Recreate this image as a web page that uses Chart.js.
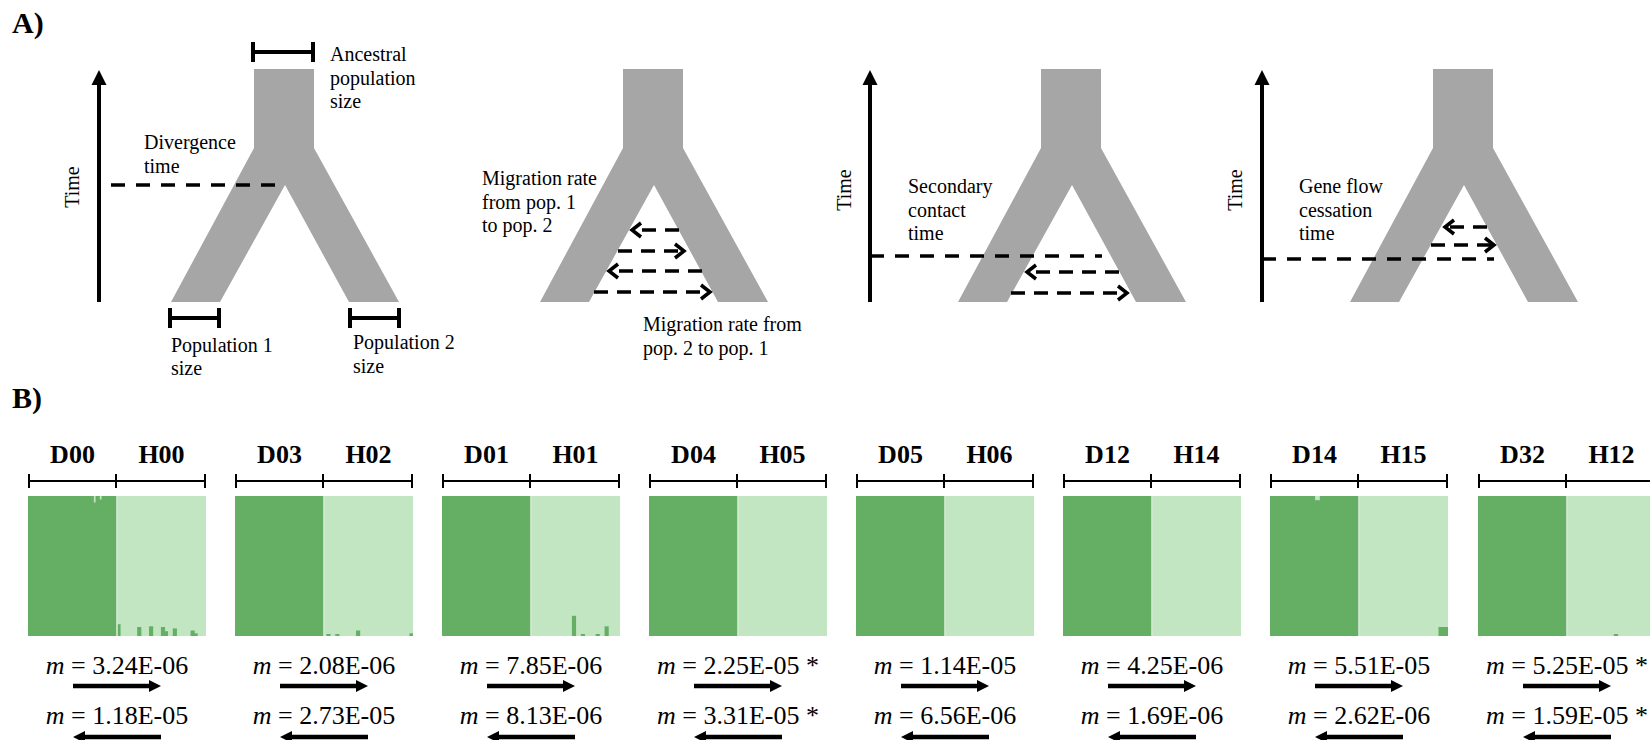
<!DOCTYPE html>
<html>
<head>
<meta charset="utf-8">
<script src="https://cdn.jsdelivr.net/npm/chart.js@4.4.1/dist/chart.umd.min.js"></script>
<style>
  body { margin: 0; background: #fff; }
  #fig { position: relative; width: 1650px; height: 740px; overflow: hidden;
         font-family: 'Liberation Serif', 'DejaVu Serif', 'Times New Roman', Times, serif; color: #000; }
  #fig canvas { position: absolute; }
  #fig div { font-family: 'Liberation Serif', 'DejaVu Serif', 'Times New Roman', Times, serif; }
  .t { position: absolute; font-size: 20px; line-height: 23.5px; white-space: nowrap; }
  .panel { position: absolute; font-weight: bold; font-size: 30px; line-height: 30px; transform: translateY(-50%); }
  .time { position: absolute; font-size: 20px; line-height: 20px; transform: translate(-50%, -50%) rotate(-90deg); }
  .pop { position: absolute; font-weight: bold; font-size: 26px; line-height: 26px; transform: translate(-50%, -50%); }
  .m { position: absolute; font-size: 26px; line-height: 26px; white-space: nowrap; transform: translate(-50%, -50%); }
</style>
</head>
<body>
<div id="fig">
  <canvas id="overlay" width="1650" height="740" style="left:0;top:0;z-index:2"></canvas>

  <div class="panel" style="left:12px;top:23px">A)</div>
  <div class="panel" style="left:12px;top:398px">B)</div>

  <div class="time" style="left:72px;top:187px">Time</div>
  <div class="t" style="left:330px;top:43px">Ancestral<br>population<br>size</div>
  <div class="t" style="left:144px;top:131px">Divergence<br>time</div>
  <div class="t" style="left:171px;top:334px;line-height:22.5px">Population 1<br>size</div>
  <div class="t" style="left:353px;top:331px">Population 2<br>size</div>

  <div class="t" style="left:482px;top:167px">Migration rate<br>from pop. 1<br>to pop. 2</div>
  <div class="t" style="left:643px;top:313px">Migration rate from<br>pop. 2 to pop. 1</div>

  <div class="time" style="left:844px;top:190px">Time</div>
  <div class="t" style="left:908px;top:175px">Secondary<br>contact<br>time</div>

  <div class="time" style="left:1235px;top:190px">Time</div>
  <div class="t" style="left:1299px;top:175px">Gene flow<br>cessation<br>time</div>
</div>

<script>
// ---------- Panel A : demographic models (diagram units = page pixels) ----------
const treeX = [254, 314, 314, 399, 349, 285, 220, 171, 254];
const treeY = [69, 69, 148, 302, 302, 185, 302, 302, 148];
const treeShift = [0, 369, 787, 1179];

const timeAxisX = [99, 870, 1262];
const timeAxisBottom = 302;
const timeAxisTip = 70;

// divergence time, secondary contact time, gene flow cessation time
const eventX0 = [111, 870, 1262];
const eventX1 = [285, 1102, 1494];
const eventY = [185, 256, 259];

// migration arrows (tail -> tip)
const migTail = [679, 618, 702, 594, 1119, 1011, 1487, 1431];
const migTip = [632, 684, 609, 710, 1027, 1127, 1445, 1494];
const migY = [230, 251, 271, 292, 272, 293, 227, 245];

// population size bars
const sizeX0 = [253, 170, 350];
const sizeX1 = [313, 219, 399];
const sizeY = [52, 318, 318];

// ---------- Panel B : STRUCTURE plots and migration rates ----------
const popLeft = ['D00', 'D03', 'D01', 'D04', 'D05', 'D12', 'D14', 'D32'];
const popRight = ['H00', 'H02', 'H01', 'H05', 'H06', 'H14', 'H15', 'H12'];
const mForward = [3.24e-6, 2.08e-6, 7.85e-6, 2.25e-5, 1.14e-5, 4.25e-6, 5.51e-5, 5.25e-5];
const mBackward = [1.18e-5, 2.73e-5, 8.13e-6, 3.31e-5, 6.56e-6, 1.69e-6, 2.62e-6, 1.59e-5];
const sigForward = [false, false, false, true, false, false, false, true];
const sigBackward = [false, false, false, true, false, false, false, true];

// membership in cluster 1 (dark) for each individual
const qD00 = [1,1,1,1,1,1,1,1,1,1, 1,1,1,1,1,1,1,1,1,1, 1,1,0.95,1,0.97,1,1,1,1,1];
const qH00 = [0.08,0,0,0,0,0,0,0.06,0,0, 0,0.065,0,0,0,0.06,0.03,0,0,0.05, 0,0,0,0,0,0.035,0.015,0,0,0];
const qD03 = [1,1,1,1,1,1,1,1,1,1, 1,1,1,1,1,1,1,1,1,1, 1,1,1,1,1,1,1,1,1,1];
const qH02 = [0,0.01,0,0,0.01,0,0,0,0,0, 0,0.035,0,0,0,0,0,0,0,0, 0,0,0,0,0,0,0,0,0,0.015];
const qD01 = [1,1,1,1,1,1,1,1,0.995,1, 1,1,1,1,1,1,1,1,1,1, 1,1,1,1,1,1,1,1,1,1];
const qH01 = [0,0,0,0,0,0,0,0,0,0, 0,0,0,0,0.14,0,0,0.01,0,0, 0,0,0.01,0,0,0.065,0,0,0,0];
const qD04 = [1,1,1,1,1,1,1,1,1,1, 1,1,1,1,1,1,1,1,1,1, 1,1,1,1,1,1,1,1,1,1];
const qH05 = [0,0,0,0,0,0,0,0,0,0, 0,0,0,0,0,0,0,0,0,0, 0,0,0,0,0,0,0,0,0,0];
const qD05 = [1,1,1,1,1,1,1,1,1,1, 1,1,1,1,1,1,1,1,1,1, 1,1,1,1,1,1,1,1,1,1];
const qH06 = [0,0,0,0,0,0,0,0,0,0, 0,0,0,0,0,0,0,0,0,0, 0,0,0,0,0,0,0,0,0,0];
const qD12 = [1,1,1,1,1,1,1,1,1,1, 1,1,1,1,1,1,1,1,1,1, 1,1,1,1,1,1,1,1,1,1];
const qH14 = [0,0,0,0,0,0,0,0,0,0, 0,0,0,0,0,0,0,0,0,0, 0,0,0,0,0,0,0,0,0,0];
const qD14 = [1,1,1,1,1,1,1,1,1,1, 1,1,1,1,1,0.965,0.965,1,1,1, 1,1,1,1,1,1,1,1,1,1];
const qH15 = [0,0,0,0,0,0,0,0,0,0, 0,0,0,0,0,0,0,0,0,0, 0,0,0,0,0,0,0,0.06,0.06,0.06];
const qD32 = [1,1,1,1,1,1,1,1,1,1, 1,1,1,1,1,1,1,1,1,1, 1,1,1,1,1,1,1,1,1,1];
const qH12 = [0,0,0,0,0,0,0,0,0,0, 0,0,0,0,0,0,0.01,0,0,0, 0,0,0,0,0,0,0,0,0,0];
const ancestry = [
  [qD00, qH00], [qD03, qH02], [qD01, qH01], [qD04, qH05],
  [qD05, qH06], [qD12, qH14], [qD14, qH15], [qD32, qH12]
];

// layout
const panelLeft = [28, 235, 442, 649, 856, 1063, 1270, 1478];
const panelW = 178, plotTop = 496, plotH = 140;
const DARK = '#64af63', LIGHT = '#c2e6c2', GREY = '#a6a6a6';

const fig = document.getElementById('fig');

// ---------- overlay drawing (schematics, brackets, arrows) ----------
const ds = [];
function pts(xs, ys) { return xs.map((x, i) => ({x: x, y: ys[i]})); }
function line(points, width, dash) {
  ds.push({data: points, showLine: true, pointRadius: 0, borderColor: '#000',
           borderWidth: width, borderDash: dash || [], borderCapStyle: 'butt',
           borderJoinStyle: 'miter', fill: false, order: 0});
}
function shape(points, color, order) {
  ds.push({data: points, showLine: true, pointRadius: 0, borderColor: 'rgba(0,0,0,0)',
           backgroundColor: color, borderWidth: 1, fill: 'shape', order: order});
}

// trees
treeShift.forEach(s => shape(pts(treeX.map(x => x + s), treeY), GREY, 5));

// time axes
timeAxisX.forEach(x => {
  line(pts([x, x], [timeAxisBottom, timeAxisTip + 14]), 4);
  shape(pts([x - 7.5, x + 7.5, x], [timeAxisTip + 15, timeAxisTip + 15, timeAxisTip]), '#000', 0);
});

// event lines
eventY.forEach((y, i) => line(pts([eventX0[i], eventX1[i]], [y, y]), 3.5, [14, 11]));

// migration arrows
migY.forEach((y, i) => {
  const dir = Math.sign(migTip[i] - migTail[i]);
  line(pts([migTail[i], migTip[i]], [y, y]), 3.5, [14, 9]);
  const b = migTip[i] - dir * 9;
  line(pts([b, migTip[i], b], [y - 7, y, y + 7]), 3.5);
});

// size bars
sizeY.forEach((y, i) => {
  line(pts([sizeX0[i], sizeX1[i]], [y, y]), 4);
  line(pts([sizeX0[i], sizeX0[i]], [y - 10, y + 10]), 4);
  line(pts([sizeX1[i], sizeX1[i]], [y - 10, y + 10]), 4);
});

// panel B brackets and migration arrows
panelLeft.forEach(L => {
  const y = 481, a = L + 1, m = L + 88, b = L + panelW - 1;
  line(pts([a, b], [y, y]), 2);
  [a, m, b].forEach(x => line(pts([x, x], [y - 7, y + 7]), 2));
  const c = L + panelW / 2;
  // forward (pop. 1 -> pop. 2)
  line(pts([c - 44, c + 33], [686, 686]), 4.5);
  shape(pts([c + 32, c + 44, c + 32], [680, 686, 692]), '#000', 0);
  // backward (pop. 2 -> pop. 1)
  line(pts([c + 44, c - 33], [737, 737]), 4.5);
  shape(pts([c - 32, c - 44, c - 32], [731, 737, 743]), '#000', 0);
});

new Chart(document.getElementById('overlay'), {
  type: 'scatter',
  data: {datasets: ds},
  options: {
    responsive: false, animation: false, events: [],
    layout: {padding: 0},
    plugins: {legend: {display: false}, tooltip: {enabled: false}},
    scales: {
      x: {type: 'linear', display: false, min: 0, max: 1650},
      y: {type: 'linear', display: false, min: 0, max: 740, reverse: true}
    }
  }
});

// ---------- STRUCTURE bar plots ----------
const dividerPlugin = {
  id: 'divider',
  afterDatasetsDraw(chart, args, opts) {
    const xs = chart.scales.x, ctx = chart.ctx, area = chart.chartArea;
    const x = (xs.getPixelForValue(opts.at - 1) + xs.getPixelForValue(opts.at)) / 2;
    ctx.save();
    ctx.strokeStyle = '#ffffff';
    ctx.lineWidth = 1.2;
    ctx.beginPath();
    ctx.moveTo(x, area.top);
    ctx.lineTo(x, area.bottom);
    ctx.stroke();
    ctx.restore();
  }
};

function fmt(v) {
  const [mant, e] = v.toExponential(2).split('e');
  const n = parseInt(e, 10);
  return mant + 'E' + (n < 0 ? '-' : '+') + String(Math.abs(n)).padStart(2, '0');
}

function addText(cls, x, y, html) {
  const d = document.createElement('div');
  d.className = cls;
  d.style.left = x + 'px';
  d.style.top = y + 'px';
  d.innerHTML = html;
  fig.appendChild(d);
}

// empty shares are left out so the bar inflation does not leave hairlines
const orNull = v => (v > 0 ? v : null);

ancestry.forEach((pair, i) => {
  const L = panelLeft[i];
  const q = pair[0].concat(pair[1]);
  const cv = document.createElement('canvas');
  cv.width = panelW;
  cv.height = plotH;
  cv.style.left = L + 'px';
  cv.style.top = plotTop + 'px';
  cv.style.zIndex = 1;
  fig.appendChild(cv);

  const barStyle = {borderWidth: 0, categoryPercentage: 1, barPercentage: 1, inflateAmount: 0.6};
  new Chart(cv, {
    type: 'bar',
    data: {
      labels: q.map((v, k) => k + 1),
      datasets: [
        Object.assign({data: q.map(orNull), backgroundColor: DARK}, barStyle),
        Object.assign({data: q.map(v => orNull(+(1 - v).toFixed(4))), backgroundColor: LIGHT}, barStyle)
      ]
    },
    options: {
      responsive: false, animation: false, events: [],
      layout: {padding: 0},
      plugins: {legend: {display: false}, tooltip: {enabled: false}, divider: {at: pair[0].length}},
      scales: {
        x: {stacked: true, display: false},
        y: {stacked: true, display: false, min: 0, max: 1}
      }
    },
    plugins: [dividerPlugin]
  });

  addText('pop', L + 44.5, 455, popLeft[i]);
  addText('pop', L + 133.5, 455, popRight[i]);
  const c = L + panelW / 2;
  addText('m', c, 666, '<i>m</i> = ' + fmt(mForward[i]) + (sigForward[i] ? ' *' : ''));
  addText('m', c, 716, '<i>m</i> = ' + fmt(mBackward[i]) + (sigBackward[i] ? ' *' : ''));
});
</script>
</body>
</html>
